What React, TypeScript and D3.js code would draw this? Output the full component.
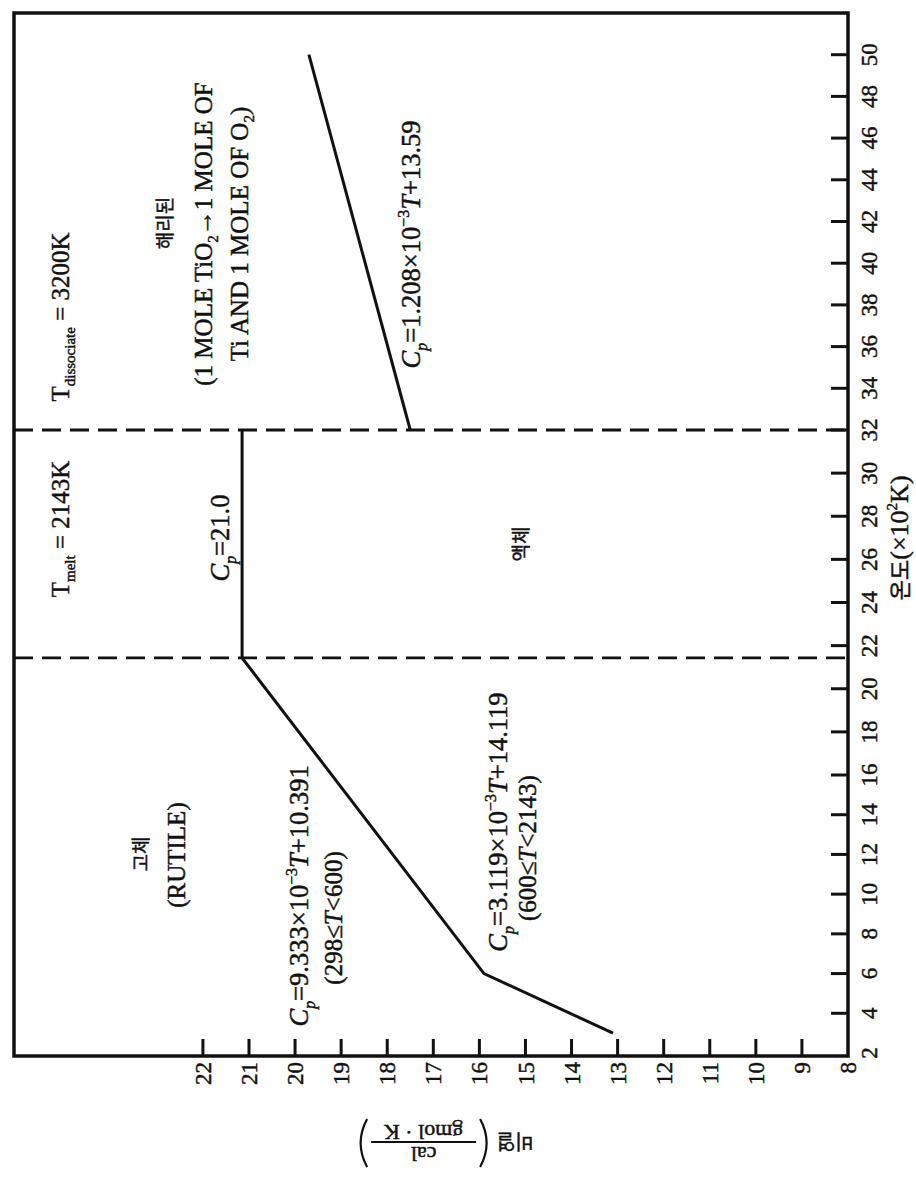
import React from 'react';
import * as d3 from 'd3';

// ---------- data ----------
const tempTicks = [2, 4, 6, 8, 10, 12, 14, 16, 18, 20, 22, 24, 26, 28, 30, 32, 34, 36, 38, 40, 42, 44, 46, 48, 50];
const cpTicks = [8, 9, 10, 11, 12, 13, 14, 15, 16, 17, 18, 19, 20, 21, 22];

// solid (rutile) + liquid branch, T in 10^2 K
const condensedT = [3.0, 6.0, 21.43, 32.0];
const condensedCp = [13.1, 15.9, 21.15, 21.15];
// dissociated branch
const dissociatedT = [32.0, 50.0];
const dissociatedCp = [17.5, 19.7];
// melting / dissociation temperatures
const boundaryT = [21.43, 32.0];

// temperature axis as printed (the scanned scale is slightly uneven)
const tempScaleDomain = [2, 16, 32, 52];
const tempScaleRange = [3, 281, 626, 1043];

const SERIF = "'Liberation Serif', 'Times New Roman', serif";
const KR = "'Noto Sans CJK KR', 'Noto Sans CJK SC', sans-serif";

type Part = { s: string; it?: boolean; sub?: boolean; sup?: boolean; kr?: boolean };
type Label = { T: number; Cp: number; size: number; parts: Part[] };

const labels: Label[] = [
  { T: 37.42, Cp: 25.1, size: 25, parts: [{ s: 'T' }, { s: 'dissociate', sub: true }, { s: ' = 3200K' }] },
  { T: 27.41, Cp: 25.1, size: 25, parts: [{ s: 'T' }, { s: 'melt', sub: true }, { s: ' = 2143K' }] },
  { T: 41.93, Cp: 22.82, size: 19, parts: [{ s: '해리된', kr: true }] },
  { T: 41.4, Cp: 22.0, size: 25, parts: [{ s: '(1 MOLE TiO' }, { s: '2', sub: true }, { s: '→1 MOLE OF' }] },
  { T: 41.4, Cp: 21.22, size: 25, parts: [{ s: 'Ti AND 1 MOLE OF O' }, { s: '2', sub: true }, { s: ')' }] },
  { T: 40.9, Cp: 17.48, size: 26.5, parts: [{ s: 'C', it: true }, { s: 'p', it: true, sub: true }, { s: '=1.208×10' }, { s: '−3', sup: true }, { s: 'T', it: true }, { s: '+13.59' }] },
  { T: 26.99, Cp: 21.63, size: 26.5, parts: [{ s: 'C', it: true }, { s: 'p', it: true, sub: true }, { s: '=21.0' }] },
  { T: 26.71, Cp: 15.08, size: 19, parts: [{ s: '액체', kr: true }] },
  { T: 12.02, Cp: 23.34, size: 19, parts: [{ s: '고체', kr: true }] },
  { T: 11.97, Cp: 22.58, size: 25, parts: [{ s: '(RUTILE)' }] },
  { T: 9.91, Cp: 19.92, size: 26.5, parts: [{ s: 'C', it: true }, { s: 'p', it: true, sub: true }, { s: '=9.333×10' }, { s: '−3', sup: true }, { s: 'T', it: true }, { s: '+10.391' }] },
  { T: 8.8, Cp: 19.18, size: 25, parts: [{ s: '(298≤' }, { s: 'T', it: true }, { s: '<600)' }] },
  { T: 13.63, Cp: 15.6, size: 26.5, parts: [{ s: 'C', it: true }, { s: 'p', it: true, sub: true }, { s: '=3.119×10' }, { s: '−3', sup: true }, { s: 'T', it: true }, { s: '+14.119' }] },
  { T: 12.32, Cp: 14.97, size: 25, parts: [{ s: '(600≤' }, { s: 'T', it: true }, { s: '<2143)' }] },
];

// ---------- layout ----------
const WIDTH = 916;
const HEIGHT = 1182;
const ORIGIN_X = 14;   // screen x of the plot's (rotated) left edge
const ORIGIN_Y = 1056; // screen y of the plot's (rotated) bottom edge
const IW = 1043;       // temperature axis length
const IH = 834;        // Cp axis length
const INK = '#111';

function Parts({ parts, size }: { parts: Part[]; size: number }) {
  let cur = 0;
  return (
    <>
      {parts.map((p, i) => {
        const target = p.sub ? size * 0.26 : p.sup ? -size * 0.42 : 0;
        const dy = target - cur;
        cur = target;
        return (
          <tspan
            key={i}
            dy={dy}
            fontSize={p.sub || p.sup ? size * 0.6 : size}
            fontStyle={p.it ? 'italic' : 'normal'}
            fontFamily={p.kr ? KR : SERIF}
          >
            {p.s}
          </tspan>
        );
      })}
    </>
  );
}

export default function App() {
  const x = d3.scaleLinear().domain(tempScaleDomain).range(tempScaleRange);
  const y = d3.scaleLinear().domain([8, 26.1]).range([IH, 0]);

  const line = d3
    .line<[number, number]>()
    .x((d) => x(d[0]))
    .y((d) => y(d[1]));

  const condensed = condensedT.map((t, i) => [t, condensedCp[i]] as [number, number]);
  const dissociated = dissociatedT.map((t, i) => [t, dissociatedCp[i]] as [number, number]);

  const tick = 17;
  const textInk = { fill: INK, stroke: INK, strokeWidth: 0.45 };

  return (
    <svg
      width={WIDTH}
      height={HEIGHT}
      style={{ position: 'absolute', left: 0, top: 0, background: '#fff' }}
      fontFamily={SERIF}
    >
      <rect width={WIDTH} height={HEIGHT} fill="#fff" />
      <g transform={`translate(${ORIGIN_X},${ORIGIN_Y}) rotate(-90)`}>
        {/* phase boundaries */}
        {boundaryT.map((t) => (
          <line
            key={t}
            x1={x(t)}
            x2={x(t)}
            y1={0}
            y2={IH}
            stroke={INK}
            strokeWidth={2.8}
            strokeDasharray="19,9"
          />
        ))}

        {/* data */}
        <path d={line(condensed) || ''} fill="none" stroke={INK} strokeWidth={3} strokeLinejoin="miter" />
        <path d={line(dissociated) || ''} fill="none" stroke={INK} strokeWidth={3} />

        {/* frame */}
        <rect x={0} y={0} width={IW} height={IH} fill="none" stroke={INK} strokeWidth={3.5} />

        {/* temperature axis (bottom in unrotated frame) */}
        {tempTicks.map((t) => (
          <g key={'t' + t}>
            {t > 2 && <line x1={x(t)} x2={x(t)} y1={IH} y2={IH - tick} stroke={INK} strokeWidth={3} />}
            <text x={x(t)} y={IH + 29} textAnchor="middle" fontSize={23} {...textInk}>
              {t}
            </text>
          </g>
        ))}
        <text x={x(27)} y={IH + 60} textAnchor="middle" fontSize={26} {...textInk}>
          <tspan fontFamily={KR} fontSize={22}>온도</tspan>
          <tspan>(×10</tspan>
          <tspan fontSize={15} dy={-11}>2</tspan>
          <tspan dy={11}>K)</tspan>
        </text>

        {/* Cp axis (left in unrotated frame) */}
        {cpTicks.map((c) => (
          <g key={'c' + c}>
            {c > 8 && <line x1={0} x2={tick} y1={y(c)} y2={y(c)} stroke={INK} strokeWidth={3} />}
            <text x={-6} y={y(c)} dy="0.35em" textAnchor="end" fontSize={23} {...textInk}>
              {c}
            </text>
          </g>
        ))}
        <g transform={`translate(${-87},${y(16.7)}) rotate(-90)`}>
          <text x={-68} y={9} textAnchor="middle" fontSize={20} fontFamily={KR} {...textInk}>
            비열
          </text>
          <path d="M-33,-24 Q-46,0 -33,24" fill="none" stroke={INK} strokeWidth={2.2} />
          <line x1={-29} x2={76} y1={1} y2={1} stroke={INK} strokeWidth={1.8} />
          <text x={23.5} y={-4} textAnchor="middle" fontSize={22} {...textInk}>
            cal
          </text>
          <text x={23.5} y={18} textAnchor="middle" fontSize={22} {...textInk}>
            gmol · K
          </text>
          <path d="M80,-24 Q93,0 80,24" fill="none" stroke={INK} strokeWidth={2.2} />
        </g>

        {/* annotations */}
        {labels.map((l, i) => (
          <text key={i} x={x(l.T)} y={y(l.Cp) + l.size * 0.35} textAnchor="middle" {...textInk}>
            <Parts parts={l.parts} size={l.size} />
          </text>
        ))}
      </g>
    </svg>
  );
}
